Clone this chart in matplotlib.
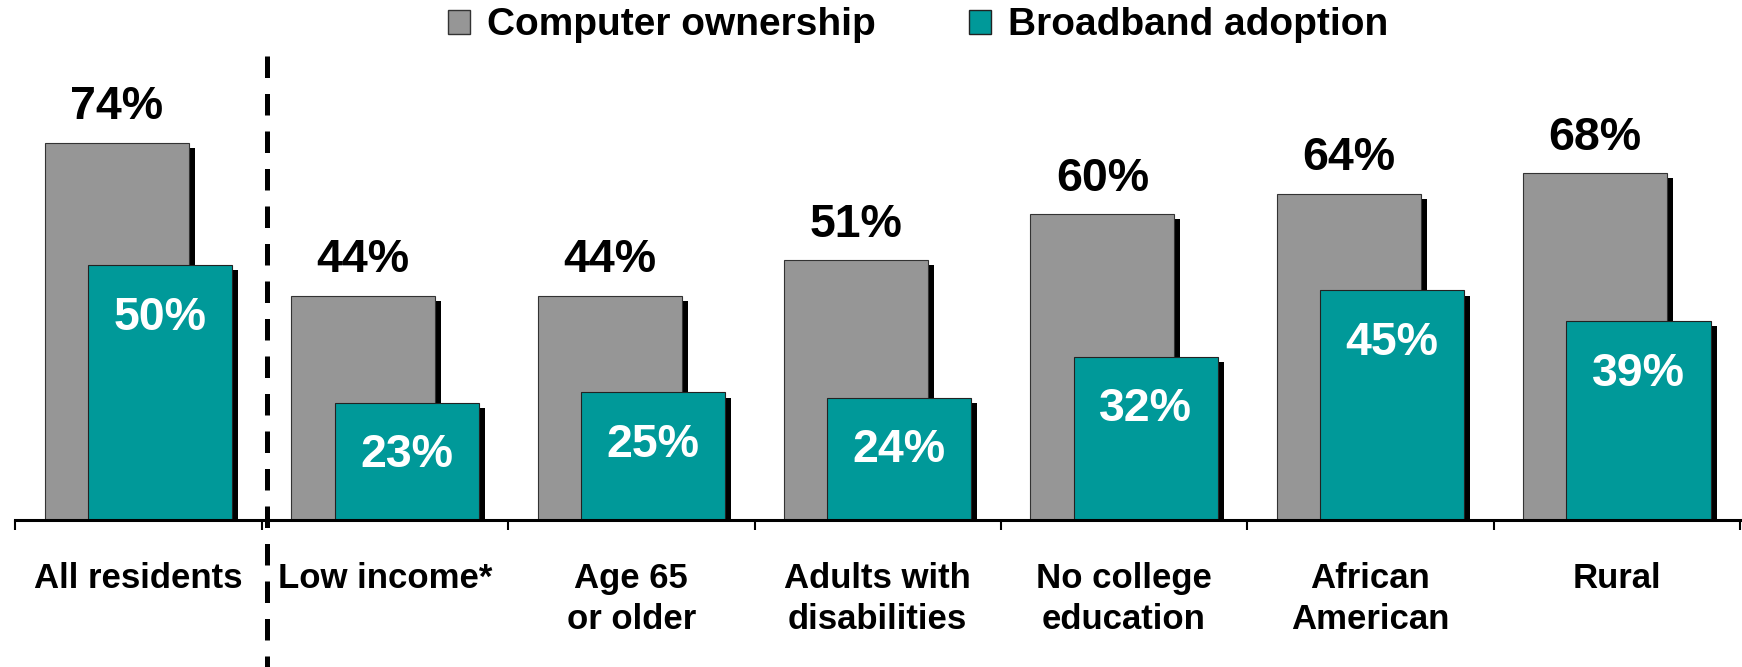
import matplotlib
matplotlib.use("Agg")
import numpy as np
import matplotlib.pyplot as plt
from matplotlib.patches import Patch

plt.rcParams['font.family'] = ['Liberation Sans', 'DejaVu Sans']
plt.rcParams['font.weight'] = 'bold'

categories = ["All residents", "Low income*", "Age 65\nor older", "Adults with\ndisabilities",
              "No college\neducation", "African\nAmerican", "Rural"]
computer = [74, 44, 44, 51, 60, 64, 68]
broadband = [50, 23, 25, 24, 32, 45, 39]

GRAY = "#969696"
TEAL = "#009999"

fig = plt.figure(figsize=(17.42, 6.67), dpi=100)
ax = fig.add_axes([0.00884, 0.2204, 0.990, 0.7646])

x = np.arange(len(categories))
off, w = 0.088, 0.585
sdx, sdy = 0.0244, 1.0  # drop shadow offset

ax.bar(x - off + sdx, np.array(computer) - sdy, w, color="black", zorder=1)
ax.bar(x - off, computer, w, color=GRAY, edgecolor="#333333", linewidth=0.8, zorder=2)
ax.bar(x + off + sdx, np.array(broadband) - sdy, w, color="black", zorder=3)
ax.bar(x + off, broadband, w, color=TEAL, edgecolor="#222222", linewidth=0.8, zorder=4)

for i, (c, b) in enumerate(zip(computer, broadband)):
    ax.text(i - off, c + 6.9, f"{c}%", ha="center", va="center",
            fontsize=33.5, fontweight="bold", color="black")
    ax.text(i + off, b - 10.3, f"{b}%", ha="center", va="center",
            fontsize=33.5, fontweight="bold", color="white", zorder=5)

# separator between the total and the subgroups
ax.plot([0.52, 0.52], [91, -30], color="black", lw=3.6, dashes=(4.3, 3.2),
        clip_on=False, zorder=6)

ax.set_xlim(-0.5, len(categories) - 0.5)
ax.set_ylim(0, 100)
for s in ["top", "right", "left"]:
    ax.spines[s].set_visible(False)
ax.spines["bottom"].set_linewidth(2.2)
ax.spines["bottom"].set_zorder(5)
ax.set_yticks([])

ax.set_xticks(np.arange(-0.5, len(categories)), labels=[])
ax.tick_params(axis="x", which="major", length=7.2, width=1.5, direction="out")
ax.set_xticks(x, labels=categories, minor=True)
ax.tick_params(axis="x", which="minor", length=0, pad=30, labelsize=25)
for lab in ax.get_xticklabels(minor=True):
    lab.set_fontweight("bold")
    lab.set_linespacing(1.32)

handles = [Patch(facecolor=GRAY, edgecolor="#333333", linewidth=1.0),
           Patch(facecolor=TEAL, edgecolor="#222222", linewidth=1.0)]
leg = fig.legend(handles, ["Computer ownership", "Broadband adoption"], loc="center",
                 bbox_to_anchor=(0.527, 0.962), ncol=2, frameon=False,
                 prop={"size": 28, "weight": "bold"}, handlelength=0.57, handleheight=0.57,
                 handletextpad=0.44, columnspacing=2.4, borderpad=0, borderaxespad=0)

fig.savefig("out.png", dpi=100)
